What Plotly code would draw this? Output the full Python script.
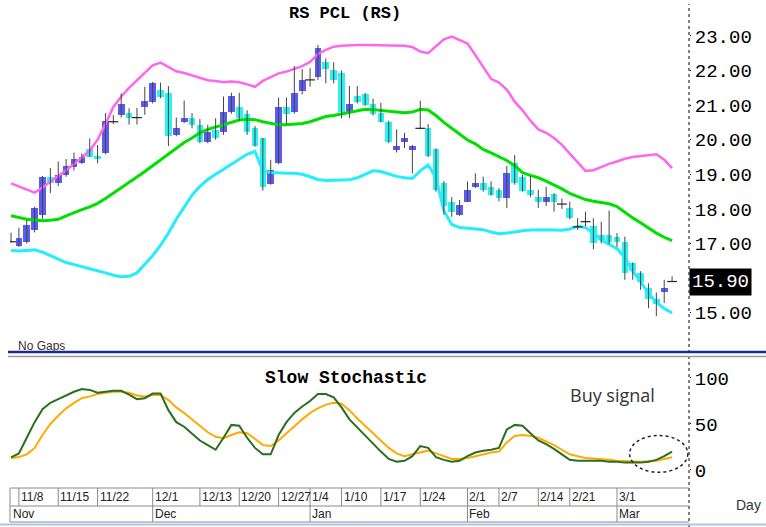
import plotly.graph_objects as go

# ---------------- data ----------------
opens = [17.05, 16.93, 17.03, 17.39, 17.83, 18.93, 18.74, 18.98, 19.22, 19.34,
         19.72, 19.53, 19.61, 20.52, 20.72, 20.77, 20.64, 20.96, 21.10, 21.44,
         21.34, 20.14, 20.52, 20.62, 20.43, 19.92, 20.28, 20.23, 20.81, 20.96,
         20.75, 20.33, 20.04, 18.72, 19.34, 20.94, 20.81, 21.42, 21.73, 21.82,
         22.24, 22.02, 21.92, 20.81, 21.25, 21.32, 21.03, 20.77, 20.52, 19.71,
         19.92, 19.71, 20.33, 20.33, 19.72, 18.74, 18.21, 17.83, 18.21, 18.63,
         18.74, 18.63, 18.55, 18.31, 19.32, 18.93, 18.55, 18.34, 18.21, 18.43,
         18.14, 18.02, 17.48, 17.63, 17.51, 17.25, 17.25, 17.20, 17.05, 16.43,
         16.14, 15.71, 15.39, 15.59, 15.90]
highs = [17.31, 17.45, 17.68, 18.06, 18.95, 19.18, 19.37, 19.44, 19.63, 19.60,
         20.04, 19.85, 20.77, 20.71, 21.34, 20.91, 20.92, 21.53, 21.67, 21.65,
         21.55, 20.64, 21.13, 20.77, 20.60, 20.43, 20.62, 21.25, 21.36, 21.36,
         20.85, 20.40, 20.06, 19.42, 21.22, 21.22, 22.13, 22.04, 22.07, 22.74,
         22.35, 22.24, 22.00, 21.55, 21.55, 21.35, 21.19, 21.07, 20.55, 20.30,
         20.20, 19.85, 21.13, 20.45, 19.75, 18.80, 18.34, 18.26, 18.79, 19.03,
         18.93, 18.80, 18.60, 19.24, 19.56, 18.98, 18.95, 18.55, 18.64, 18.45,
         18.30, 18.21, 17.73, 17.92, 17.73, 17.63, 17.95, 17.30, 17.20, 16.45,
         16.20, 15.85, 15.58, 15.95, 16.05]
lows = [17.03, 16.90, 17.00, 17.32, 17.71, 18.46, 18.66, 18.93, 19.11, 19.30,
        19.50, 19.32, 19.58, 20.45, 20.64, 20.44, 20.44, 20.72, 21.05, 21.20,
        19.82, 20.10, 20.48, 20.33, 19.90, 19.90, 20.00, 20.14, 20.75, 20.55,
        20.14, 19.80, 18.53, 18.70, 19.30, 20.45, 20.75, 21.31, 21.53, 21.73,
        21.63, 21.63, 20.62, 20.62, 21.05, 20.98, 20.70, 20.50, 19.90, 19.63,
        19.76, 19.03, 20.30, 19.50, 18.50, 17.83, 17.77, 17.80, 18.20, 18.60,
        18.50, 18.38, 18.22, 18.02, 18.70, 18.50, 18.34, 18.03, 18.08, 17.92,
        18.00, 17.70, 17.39, 17.50, 16.83, 17.00, 16.98, 16.90, 15.95, 15.95,
        15.66, 15.13, 14.90, 15.28, 15.90]
closes = [17.05, 17.15, 17.54, 18.04, 18.93, 18.76, 18.97, 19.24, 19.44, 19.51,
          19.51, 19.44, 20.54, 20.52, 21.03, 20.62, 20.64, 21.13, 21.65, 21.23,
          20.11, 20.33, 20.64, 20.43, 19.92, 20.23, 20.04, 20.81, 21.25, 20.62,
          20.23, 19.82, 18.64, 19.13, 20.94, 20.74, 21.34, 21.73, 21.73, 22.64,
          22.04, 21.73, 20.81, 21.03, 21.10, 21.00, 20.74, 20.52, 19.93, 19.83,
          20.04, 19.83, 20.33, 19.53, 18.55, 18.07, 17.92, 18.12, 18.55, 18.74,
          18.55, 18.40, 18.31, 19.03, 18.76, 18.53, 18.40, 18.21, 18.34, 18.21,
          18.14, 17.73, 17.48, 17.63, 17.01, 17.10, 17.03, 17.03, 16.14, 16.19,
          15.90, 15.39, 15.25, 15.71, 15.90]

upper_band = [18.74, 18.65, 18.55, 18.47, 18.62, 18.78, 18.95, 19.12, 19.30, 19.50,
              19.68, 20.00, 20.45, 20.95, 21.25, 21.50, 21.72, 21.95, 22.15, 22.23,
              22.10, 21.98, 21.93, 21.86, 21.78, 21.72, 21.70, 21.66, 21.68, 21.66,
              21.60, 21.53, 21.70, 21.82, 21.92, 21.97, 22.05, 22.13, 22.25, 22.48,
              22.60, 22.69, 22.72, 22.74, 22.74, 22.74, 22.74, 22.74, 22.74, 22.73,
              22.72, 22.68, 22.55, 22.50, 22.70, 22.90, 22.98, 22.88, 22.78, 22.45,
              22.10, 21.76, 21.65, 21.45, 21.10, 20.85, 20.55, 20.30, 20.20, 20.05,
              19.85, 19.60, 19.35, 19.10, 19.12, 19.22, 19.30, 19.37, 19.45, 19.50,
              19.53, 19.56, 19.58, 19.42, 19.18]
middle_band = [17.80, 17.74, 17.70, 17.68, 17.66, 17.67, 17.70, 17.80, 17.90, 17.98,
               18.06, 18.16, 18.30, 18.45, 18.60, 18.75, 18.92, 19.08, 19.25, 19.42,
               19.58, 19.75, 19.92, 20.05, 20.20, 20.30, 20.37, 20.43, 20.52, 20.57,
               20.59, 20.58, 20.52, 20.47, 20.43, 20.43, 20.45, 20.47, 20.52, 20.60,
               20.67, 20.70, 20.74, 20.80, 20.84, 20.88, 20.87, 20.84, 20.81, 20.80,
               20.78, 20.80, 20.88, 20.86, 20.70, 20.50, 20.33, 20.15, 19.99, 19.88,
               19.72, 19.62, 19.52, 19.40, 19.25, 19.05, 18.97, 18.90, 18.80, 18.70,
               18.58, 18.45, 18.35, 18.27, 18.22, 18.19, 18.15, 18.07, 17.90, 17.74,
               17.60, 17.44, 17.30, 17.18, 17.08]
lower_band = [16.80, 16.78, 16.80, 16.82, 16.75, 16.66, 16.55, 16.45, 16.38, 16.33,
              16.27, 16.22, 16.15, 16.08, 16.04, 16.05, 16.15, 16.40, 16.65, 16.95,
              17.30, 17.70, 18.05, 18.40, 18.65, 18.85, 19.00, 19.15, 19.30, 19.45,
              19.58, 19.66, 19.10, 19.05, 19.03, 19.03, 19.03, 19.00, 18.93, 18.85,
              18.82, 18.82, 18.82, 18.84, 18.90, 19.00, 19.10, 19.08, 19.00, 18.94,
              18.90, 18.88, 19.10, 19.27, 18.90, 17.95, 17.55, 17.46, 17.44, 17.42,
              17.40, 17.33, 17.28, 17.30, 17.34, 17.37, 17.39, 17.40, 17.40, 17.39,
              17.38, 17.42, 17.50, 17.46, 17.30, 17.10, 16.98, 16.85, 16.60, 16.20,
              15.90, 15.55, 15.30, 15.12, 14.99]

stoch_k = [13.8, 18, 35, 52, 66, 73, 77, 81, 85, 88,
           87, 84, 85, 86, 86, 82, 77, 78, 83, 83,
           65, 52, 47, 40, 32, 27, 22, 35, 49, 48,
           35, 24, 17, 17, 38, 52, 62, 69, 75, 82.6,
           82.6, 79, 68, 55, 46, 37, 29, 20, 12, 9,
           10, 15, 26, 24, 14, 11, 9, 10, 15, 19,
           21, 22, 24, 44, 49, 48, 40, 32, 28, 23,
           17, 11, 10, 10, 10, 10, 9, 9, 8, 8,
           8, 9, 11, 15, 20]
stoch_d = [12.7, 14, 17, 24, 38, 50, 59, 67, 73, 78,
           80, 82.6, 84, 85, 85, 84, 81, 80, 81.5, 81.5,
           76, 68, 62, 55, 47, 41, 36, 34.5, 38, 41,
           40, 34, 27, 26, 32, 40, 47, 55, 62, 67,
           71, 73, 72, 65, 56, 48, 40, 31, 24, 18,
           15, 17, 19, 21, 18, 15, 12, 12, 13, 15,
           17, 19, 20, 30, 37, 38, 37, 35, 31, 27,
           22, 17, 15, 13, 12.5, 12, 11, 10, 9.5, 9,
           9, 9.5, 10, 12, 13.8]

tick_idx = [1, 6, 11, 18, 24, 29, 34, 38, 42, 47, 52, 58, 62, 67, 71, 77]
tick_text = ["11/8", "11/15", "11/22", "12/1", "12/13", "12/20", "12/27", "1/4",
             "1/10", "1/17", "1/24", "2/1", "2/7", "2/14", "2/21", "3/1"]
month_idx = [0, 18, 38, 58, 77]
month_text = ["Nov", "Dec", "Jan", "Feb", "Mar"]
price_ticks = [15, 17, 18, 19, 20, 21, 22, 23]
stoch_ticks = [0, 50, 100]
last_price = 15.90

# ---------------- figure ----------------
n = len(opens)
idx = list(range(n))

UP = "#5b5bf2"
DOWN = "#2ef2f2"
MONO = "Liberation Mono, DejaVu Sans Mono, monospace"
SANS = "Liberation Sans Narrow, Liberation Sans, Arial, sans-serif"

fig = go.Figure()

# bands
fig.add_trace(go.Scatter(x=idx, y=upper_band, mode="lines",
                         line=dict(color="#ff66ee", width=2.5), hoverinfo="skip"))
fig.add_trace(go.Scatter(x=idx, y=middle_band, mode="lines",
                         line=dict(color="#00e000", width=3), hoverinfo="skip"))
fig.add_trace(go.Scatter(x=idx, y=lower_band, mode="lines",
                         line=dict(color="#22eeff", width=3), hoverinfo="skip"))

# wicks
wx, wy = [], []
for i in idx:
    wx += [i, i, None]
    wy += [lows[i], highs[i], None]
fig.add_trace(go.Scatter(x=wx, y=wy, mode="lines",
                         line=dict(color="#444444", width=1), hoverinfo="skip"))

# bodies
bx, bbase, bh, bcol = [], [], [], []
dx, dy = [], []
for i in idx:
    o, c = opens[i], closes[i]
    if abs(c - o) < 1e-9:
        dx.append(i)
        dy.append(c)
    else:
        bx.append(i)
        bbase.append(min(o, c))
        bh.append(abs(c - o))
        bcol.append(UP if c > o else DOWN)
fig.add_trace(go.Bar(x=bx, y=bh, base=bbase, width=0.85,
                     marker=dict(color=bcol, line=dict(width=0)), hoverinfo="skip"))
fig.add_trace(go.Scatter(x=dx, y=dy, mode="markers",
                         marker=dict(symbol="line-ew", size=7,
                                     line=dict(color="#222222", width=1.2)),
                         hoverinfo="skip"))

# stochastic
fig.add_trace(go.Scatter(x=idx, y=stoch_d, mode="lines", yaxis="y2",
                         line=dict(color="#ffaa00", width=2), hoverinfo="skip"))
fig.add_trace(go.Scatter(x=idx, y=stoch_k, mode="lines", yaxis="y2",
                         line=dict(color="#2a6e1e", width=2), hoverinfo="skip"))

W, H = 766, 527
ML, MR, MT, MB = 10, 77, 0, 40
PW, PH = W - ML - MR, H - MT - MB


def px_x(x):
    return (x - ML) / PW


def px_y(y):
    return (H - MB - y) / PH


fig.update_layout(
    width=W, height=H,
    margin=dict(l=ML, r=MR, t=MT, b=MB, autoexpand=False),
    paper_bgcolor="white", plot_bgcolor="white",
    showlegend=False, bargap=0,
    xaxis=dict(range=[-0.13, 86.15], showticklabels=False, showgrid=False,
               zeroline=False, showline=False, ticks="", automargin=False),
    yaxis=dict(domain=[px_y(350), 1], range=[13.92, 24.04], side="right",
               tickvals=price_ticks, ticktext=["%.2f" % v for v in price_ticks],
               tickfont=dict(family=MONO, size=19, color="black"),
               ticks="outside", ticklen=1, tickcolor="black", automargin=False,
               showgrid=False, zeroline=False, showline=False),
    yaxis2=dict(domain=[0, px_y(358)], range=[-18.5, 121.7], side="right",
                anchor="x", tickvals=stoch_ticks,
                ticktext=[str(v) for v in stoch_ticks],
                tickfont=dict(family=MONO, size=19, color="black"),
                ticks="outside", ticklen=1, tickcolor="black", automargin=False,
                showgrid=False, zeroline=False, showline=False),
)

shapes = []
# dotted right axis line
shapes.append(dict(type="line", xref="paper", yref="paper", x0=1, x1=1,
                   y0=px_y(527), y1=px_y(4), line=dict(color="black", width=1, dash="dot")))
# separators between panels
shapes.append(dict(type="line", xref="paper", yref="paper", x0=px_x(8), x1=px_x(766),
                   y0=px_y(352), y1=px_y(352), line=dict(color="#1c2a8c", width=2.5)))
shapes.append(dict(type="line", xref="paper", yref="paper", x0=px_x(8), x1=px_x(766),
                   y0=px_y(356.5), y1=px_y(356.5), line=dict(color="#9a9a9a", width=1.5)))
# date rows
GRID = "#8a8a8a"
for yy in (488, 506, 522):
    shapes.append(dict(type="line", xref="paper", yref="paper", x0=0, x1=1,
                       y0=px_y(yy), y1=px_y(yy), line=dict(color=GRID, width=1)))
shapes.append(dict(type="line", xref="paper", yref="paper", x0=0, x1=0,
                   y0=px_y(522), y1=px_y(488), line=dict(color=GRID, width=1)))
for t in tick_idx:
    shapes.append(dict(type="line", xref="x", yref="paper", x0=t, x1=t,
                       y0=px_y(506), y1=px_y(488), line=dict(color=GRID, width=1)))
for t in month_idx[1:]:
    shapes.append(dict(type="line", xref="x", yref="paper", x0=t, x1=t,
                       y0=px_y(522), y1=px_y(506), line=dict(color=GRID, width=1)))
# image bottom border
shapes.append(dict(type="line", xref="paper", yref="paper", x0=px_x(0), x1=px_x(766),
                   y0=px_y(524.5), y1=px_y(524.5), line=dict(color="#a8c8ea", width=2)))
# buy-signal ellipse
shapes.append(dict(type="circle", xref="x", yref="y2", x0=78.6, x1=86.0, y0=-2.5, y1=37.5,
                   line=dict(color="#222222", width=1.5, dash="dot")))
fig.update_layout(shapes=shapes)

ann = []


def label(text, x, y, font, xanchor="center", xref="paper", yref="paper", **kw):
    ann.append(dict(text=text, xref=xref, yref=yref, x=x, y=y, xanchor=xanchor,
                    yanchor="middle", showarrow=False, font=font, **kw))


label("<b>RS PCL (RS)</b>", px_x(345), px_y(14), dict(family=MONO, size=17, color="black"))
label("<b>Slow Stochastic</b>", px_x(346), px_y(378), dict(family=MONO, size=18, color="black"))
label("Buy signal", px_x(612), px_y(395),
      dict(family="Open Sans, sans-serif", size=18, color="#333333"))
label("No Gaps", px_x(16), px_y(346), dict(family=SANS, size=12, color="#333333"), xanchor="left")
label("Day", px_x(734), px_y(505), dict(family=SANS, size=14, color="#333333"), xanchor="left")
label("15.90", 1, last_price, dict(family=MONO, size=19, color="white"), xanchor="left",
      yref="y", xshift=0, bgcolor="black", borderpad=2)
for t, lab in zip(tick_idx, tick_text):
    label(lab, t, px_y(497), dict(family=SANS, size=12, color="#222222"), xanchor="left",
          xref="x", xshift=0)
for t, lab in zip(month_idx, month_text):
    label(lab, t, px_y(514), dict(family=SANS, size=12, color="#222222"), xanchor="left",
          xref="x")
fig.update_layout(annotations=ann)

fig.write_html("out.html", config={"displayModeBar": False},
               post_script="document.body.style.margin='0px';document.body.style.padding='0px';")
